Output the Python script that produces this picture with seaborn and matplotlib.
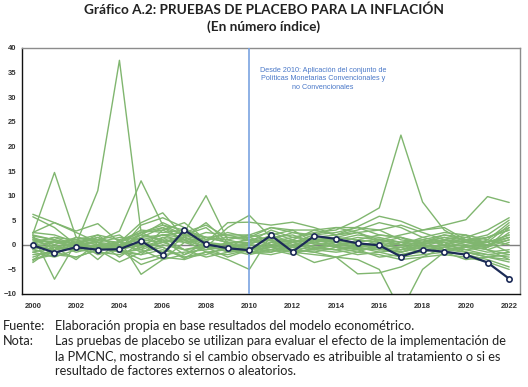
import matplotlib
matplotlib.use("Agg")
import matplotlib.pyplot as plt
import seaborn as sns
import pandas as pd
import numpy as np

years = list(range(2000, 2023))
actual = [-0.1, -1.6, -0.5, -1.0, -0.9, 0.8, -2.0, 3.0, 0.1, -0.7, -1.1,
          1.9, -1.4, 1.8, 1.2, 0.3, -0.1, -2.4, -1.0, -1.4, -2.0, -3.6, -6.9]

p01 = [2.0, 1.0, 0.2, 11.0, 37.5, 2.5, 0.5, 1.0, -0.5, 0.3, 1.0, 0.8, 0.5, 1.2, 0.8, 0.3, -0.5, 0.5, 0.2, 0.8, 0.5, 1.5, 3.0]
p02 = [2.2, 14.7, 1.5, 0.5, 0.0, 1.5, 3.5, 2.0, 0.5, -0.5, -0.8, 0.5, 1.0, 0.2, -0.3, -0.8, -1.0, -0.5, 0.3, 0.5, -0.3, -1.0, -2.0]
p03 = [1.0, 0.5, -0.3, 0.8, 2.8, 13.0, 4.0, 3.0, 1.5, 0.5, 0.3, 1.0, -0.5, 0.5, 1.0, 0.0, -0.5, -1.0, 0.5, 1.0, 0.0, -0.5, 1.0]
p04 = [0.5, 0.8, -0.5, -1.0, -0.5, 1.5, 2.0, 2.5, 10.0, 1.0, 0.0, -0.5, 0.5, 1.0, 0.5, 1.5, 1.0, 0.5, -0.5, 0.0, 1.0, 0.5, 2.0]
p05 = [2.0, -7.0, 0.5, 1.5, 0.0, -1.0, 0.5, -1.0, 0.0, -0.5, -1.5, -0.5, 0.0, -0.8, -1.0, -0.5, -1.5, -1.0, 0.0, -0.5, -1.0, -2.0, -1.5]
p06 = [6.2, 4.5, 2.8, 4.3, 0.5, 4.5, 6.5, 1.5, 4.5, 0.5, -1.0, 0.5, 1.5, 1.0, 0.0, 0.5, 1.2, 0.0, 0.5, 1.5, 0.5, 0.0, 1.5]
p07 = [5.7, 3.5, 0.0, 2.0, -1.0, 4.0, 5.5, 3.5, 0.5, 4.5, 4.6, 4.0, 4.6, 3.5, 2.0, 3.0, 4.5, 3.5, 1.5, 2.5, 2.0, -1.0, -3.0]
p08 = [1.5, 0.0, 1.5, 0.5, -1.0, 2.5, 3.0, 1.0, -0.5, 3.5, 6.0, 1.5, 0.5, 2.0, 2.5, 3.5, 2.0, 1.5, 0.0, 1.0, 0.5, 0.5, -1.5]
p09 = [-1.0, -2.0, 0.5, -0.5, -1.5, -2.0, 1.5, 1.0, -1.5, -3.0, -5.0, 2.0, 0.5, -1.0, 0.5, 0.0, -0.5, -1.5, -0.5, 0.0, -1.0, -0.5, 3.5]
p10 = [0.5, 1.5, 0.0, -0.5, 0.5, 2.0, 1.0, 0.5, 1.5, 0.5, 0.5, 3.0, 1.5, 2.5, 3.0, 5.0, 7.5, 22.3, 8.7, 3.0, 0.5, 0.0, 1.0]
p11 = [-1.5, -2.5, -1.0, 0.0, -1.0, -3.0, -2.0, -1.5, -1.0, -0.5, 0.0, -0.5, -1.0, -1.5, -2.5, -3.0, -5.0, -13.5, -5.0, -1.5, -0.5, 0.5, 1.5]
p12 = [-0.5, 0.5, 1.0, 0.0, -0.5, 0.5, 2.0, 0.5, 1.0, 1.5, 1.0, 0.0, 0.5, 1.5, 2.0, 3.7, 5.8, 4.8, 3.0, 4.0, 5.1, 9.8, 8.6]
p13 = [-3.0, -1.5, -2.5, -1.0, 0.5, -1.5, -0.5, -2.5, -1.5, -1.0, -1.5, -1.0, -1.5, -3.6, -2.5, -5.9, -5.7, -4.5, -2.5, -0.5, -1.5, -2.5, -3.0]
p14 = [2.5, 2.0, 0.5, 1.0, 0.5, 3.0, 2.5, 3.0, 1.5, 1.0, 2.0, 1.0, 2.5, 1.5, 1.0, 2.0, 1.5, 0.5, 1.0, 2.0, 1.5, 3.0, 5.5]
p15 = [1.8, 1.0, 0.0, 1.5, -0.5, 2.0, 4.5, 2.5, 4.0, 1.5, 1.5, 2.5, 1.0, 3.0, 2.0, 2.5, 3.0, 1.0, 0.5, 1.5, 1.0, 2.0, 5.0]
p16 = [1.2, 0.5, -0.5, -1.0, 0.0, 1.0, 2.0, 1.5, 0.5, 0.0, -0.5, -1.0, 0.0, 0.5, -0.5, 1.0, 0.5, 0.0, 1.5, 0.5, -0.5, 1.0, 4.5]
p17 = [1.0, -0.5, -1.0, -1.5, -2.0, -0.5, 0.5, 1.5, -0.5, -1.0, 0.5, 1.0, -1.5, 0.0, 0.5, -0.5, -1.0, 0.5, 1.0, 0.0, 1.5, 0.5, 4.0]
p18 = [0.0, 0.5, 0.5, -0.5, -1.0, 0.0, 1.5, -1.0, -2.5, -1.5, -1.0, 0.0, 1.0, -0.5, 0.0, 0.5, -0.5, -1.5, -0.5, 1.0, 0.5, -0.5, 2.5]
p19 = [-0.5, -1.0, 0.0, 0.5, -1.5, -1.0, -3.0, 0.5, -1.0, 0.5, -1.5, -1.5, -0.5, -1.0, -1.5, -1.0, -0.5, -2.0, -1.5, -0.5, 0.0, -1.0, 0.5]
p20 = [-1.0, 0.0, -1.5, -0.5, 0.5, -0.5, 1.0, -2.0, -0.5, -1.0, -2.0, -1.0, -2.0, -0.5, -1.0, -2.0, -1.5, -2.5, -2.0, -1.5, -2.0, -3.0, -4.5]
p21 = [-1.5, -0.5, 0.5, -2.0, -1.0, -4.0, -2.5, -3.0, -1.5, -2.0, -1.0, -0.5, -1.5, -2.0, -2.5, -1.5, -2.0, -3.0, -2.5, -2.0, -2.5, -3.5, -5.0]
p22 = [-2.0, -1.5, -0.5, 0.0, -1.0, -2.0, -1.0, -2.5, -2.0, -0.5, -1.5, -2.0, -1.0, -1.5, -0.5, -1.0, -2.5, -2.0, -1.0, -1.5, -3.0, -2.5, -3.5]
p23 = [-2.5, -1.0, 0.5, -3.0, 1.0, -6.0, -3.0, -2.0, 0.5, -1.0, -0.5, -1.5, 0.5, -0.5, -1.0, 0.0, -1.0, -1.5, 0.0, -1.0, -0.5, -1.5, -1.0]
p24 = [-3.0, -2.0, -2.5, -1.0, -3.5, -1.5, 0.0, -1.0, -0.5, -2.5, -1.0, 0.5, -0.5, 0.5, -0.5, -1.5, 0.0, -0.5, -1.5, 0.5, -1.5, -2.0, -2.5]
p25 = [-3.3, 1.0, -1.0, -0.5, 0.5, 0.0, -1.5, 1.5, 0.0, -0.5, 1.5, 0.0, -1.0, 1.0, 0.5, -0.5, 1.0, 0.0, -1.0, -0.5, 0.5, 1.5, 3.5]
p26 = [-3.6, -0.5, -3.0, 0.5, -2.5, 0.5, -0.5, -2.8, 0.0, -1.5, -1.0, -0.5, -1.5, -1.0, 0.0, -0.5, 0.5, -1.0, -0.5, -1.0, -1.5, -2.5, -2.0]
p27 = [0.5, 1.5, 1.0, 2.0, 1.0, 2.5, 3.5, 1.0, 2.5, 2.0, 1.0, 1.5, 2.0, 0.5, 1.5, 1.0, 2.0, 1.5, 0.5, 2.0, 1.0, 0.5, 2.0]
p28 = [2.5, 4.5, 2.5, 0.5, 1.5, 1.0, 0.5, 2.0, 1.5, 2.0, 2.0, 3.5, 2.5, 2.0, 3.5, 3.5, 3.0, 4.0, 2.5, 1.0, 2.0, 1.0, 0.0]
p29 = [1.5, -1.0, 1.5, 1.0, 2.0, -1.0, 3.0, 4.5, 1.0, 2.5, 1.5, 3.5, 3.0, 3.0, 3.5, 2.5, 1.0, 2.0, 3.0, 3.5, 1.0, 1.5, 3.0]
p30 = [0.0, -1.0, -0.5, 0.0, 0.5, 2.5, 4.0, 2.0, 3.5, 0.0, 0.0, 2.0, 3.0, 0.5, 1.5, 2.5, 0.5, 1.5, 0.0, -1.0, -0.5, 0.0, 1.5]

placebo = [p01, p02, p03, p04, p05, p06, p07, p08, p09, p10, p11, p12, p13, p14, p15,
           p16, p17, p18, p19, p20, p21, p22, p23, p24, p25, p26, p27, p28, p29, p30]

x_tick_labels = [str(y) for y in range(2000, 2023, 2)]
y_ticks = list(range(-10, 45, 5))

title1 = "Gráfico A.2: PRUEBAS DE PLACEBO PARA LA INFLACIÓN"
title2 = "(En número índice)"
annot = "Desde 2010: Aplicación del conjunto de\nPolíticas Monetarias Convencionales y\nno Convencionales"

rows = []
for i, s in enumerate(placebo):
    for yr, v in zip(years, s):
        rows.append({"year": yr, "value": v, "serie": i})
df_p = pd.DataFrame(rows)
df_a = pd.DataFrame({"year": years, "value": actual})

sns.set_theme(style="white")
plt.rcParams["font.family"] = ["Liberation Sans", "DejaVu Sans"]

fig = plt.figure(figsize=(5.28, 3.87), dpi=100)
ax = fig.add_axes([22/528, 1-294/387, (520-22)/528, (294-48)/387])

green = "#80b66f"
navy = "#1c2b57"

sns.lineplot(data=df_p, x="year", y="value", units="serie", estimator=None,
             color=green, lw=1.0, ax=ax, legend=False, zorder=2)
ax.axhline(0, color="#7f7f7f", lw=1.0, zorder=1.5)
ax.axvline(2010, color="#7aa3e0", lw=1.2, zorder=3)
sns.lineplot(data=df_a, x="year", y="value", color=navy, lw=1.6, ax=ax,
             marker="o", markersize=3.8, markerfacecolor="white",
             markeredgecolor=navy, markeredgewidth=1.2, legend=False, zorder=4)

ax.set_xlim(1999.5, 2022.5)
ax.set_ylim(-10, 40)
ax.set_xticks(years)
ax.set_xticklabels([str(y) if y % 2 == 0 else "" for y in years])
ax.set_yticks(y_ticks)
ax.tick_params(axis="x", direction="inout", length=5, width=0.8, color="#222222",
               labelsize=5.5, labelcolor="#333333", pad=4)
ax.tick_params(axis="y", length=0, labelsize=5.5, labelcolor="#333333", pad=4)
for lab in ax.get_xticklabels() + ax.get_yticklabels():
    lab.set_fontweight("bold")
ax.set_xlabel("")
ax.set_ylabel("")
for side in ["left", "bottom"]:
    ax.spines[side].set_color("#111111")
    ax.spines[side].set_linewidth(1.0)
for side in ["top", "right"]:
    ax.spines[side].set_color("#8c8c8c")
    ax.spines[side].set_linewidth(1.0)

ax.text(2013.4, 36.2, annot, ha="center", va="top", fontsize=5.2,
        color="#4a78c8", linespacing=1.35)

fig.text(0.5, 1-10/387, title1, ha="center", va="center", fontsize=9.8,
         fontweight="bold", family=["Lato", "DejaVu Sans"], color="#222222")
fig.text(0.5, 1-27/387, title2, ha="center", va="center", fontsize=9.8,
         fontweight="bold", family=["Lato", "DejaVu Sans"], color="#222222")

foot_font = dict(fontsize=9.2, family=["Lato", "DejaVu Sans"], color="#222222", va="center")
fig.text(3/528, 1-326/387, "Fuente:", **foot_font)
fig.text(55/528, 1-326/387, "Elaboración propia en base resultados del modelo econométrico.", **foot_font)
fig.text(3/528, 1-341/387, "Nota:", **foot_font)
fig.text(55/528, 1-341/387, "Las pruebas de placebo se utilizan para evaluar el efecto de la implementación de", **foot_font)
fig.text(55/528, 1-356/387, "la PMCNC, mostrando si el cambio observado es atribuible al tratamiento o si es", **foot_font)
fig.text(55/528, 1-371/387, "resultado de factores externos o aleatorios.", **foot_font)

fig.savefig("out.png", dpi=100)
